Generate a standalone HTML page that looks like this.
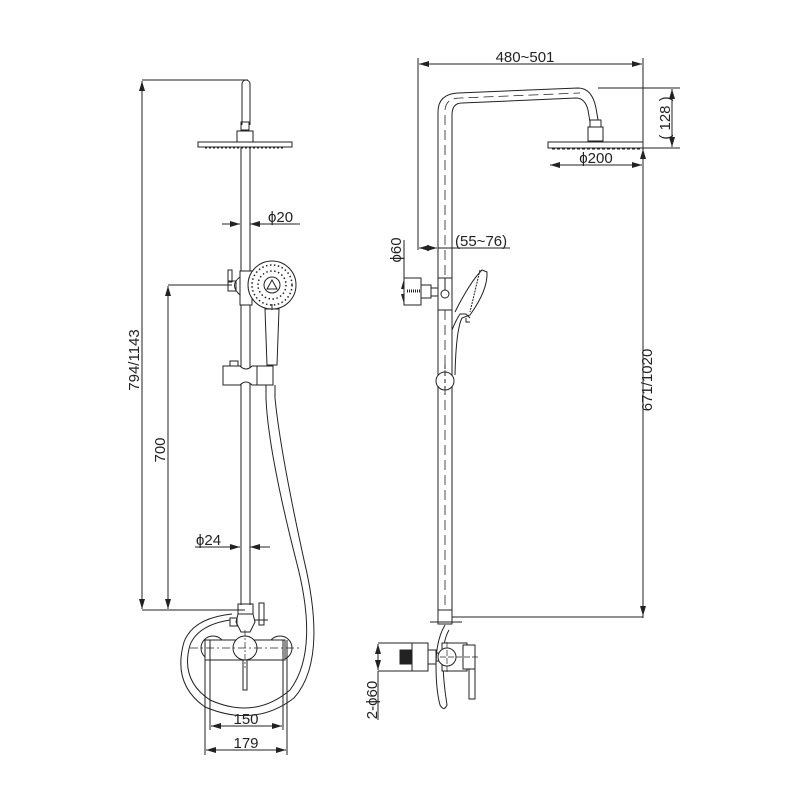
<!DOCTYPE html>
<html><head><meta charset="utf-8"><style>
html,body{margin:0;padding:0;background:#fff}
svg{display:block}
text{font-family:"Liberation Sans","DejaVu Sans",sans-serif;font-size:15px;fill:#222}
</style></head><body>
<svg width="800" height="800" viewBox="0 0 800 800" xmlns="http://www.w3.org/2000/svg">
<defs>
<marker id="a" viewBox="0 0 10 6" refX="10" refY="3" markerWidth="10" markerHeight="6" orient="auto-start-reverse" markerUnits="userSpaceOnUse"><path d="M0,0 L10,3 L0,6 z" fill="#222"/></marker>
</defs>
<g stroke="#222" stroke-width="1" fill="none">
<line x1="142" y1="80" x2="248" y2="80"/>
<line x1="142" y1="610" x2="245" y2="610"/>
<line x1="142" y1="81" x2="142" y2="609" marker-start="url(#a)" marker-end="url(#a)"/>
<line x1="168" y1="285" x2="232" y2="285"/>
<line x1="168" y1="286" x2="168" y2="609" marker-start="url(#a)" marker-end="url(#a)"/>
<line x1="222" y1="224" x2="240" y2="224" marker-end="url(#a)"/>
<line x1="250" y1="224" x2="300" y2="224" marker-start="url(#a)"/>
<line x1="195" y1="547" x2="240" y2="547" marker-end="url(#a)"/>
<line x1="250" y1="547" x2="270" y2="547" marker-start="url(#a)"/>
<path d="M242,125 L242,84 A4,4 0 0 1 250,84 L250,125"/>
<rect x="241" y="122" width="8" height="8"/>
<rect x="237" y="131" width="16" height="11"/>
<rect x="198" y="142" width="94" height="5"/>
<line x1="205" y1="148" x2="285" y2="148" stroke-dasharray="2,2"/>
<line x1="241" y1="148" x2="241" y2="605"/>
<line x1="250" y1="148" x2="250" y2="605"/>
<rect x="240" y="271" width="12" height="34" fill="#fff"/>
<path d="M240,277 Q229,285 240,295"/>
<rect x="228" y="281" width="8" height="10"/>
<rect x="228" y="270" width="4" height="12"/>
<circle cx="272" cy="285" r="24" fill="#fff"/>
<circle cx="272" cy="285" r="20" stroke-dasharray="1.5,2.5" stroke-width="1.5"/>
<circle cx="272" cy="285" r="14" stroke-dasharray="1.5,2.5" stroke-width="1.5"/>
<circle cx="272" cy="285" r="8"/>
<path d="M267,289 L272,280 L277,289 z"/>
<path d="M265,309 L279,309 L277,365 L267,365 z"/>
<line x1="272" y1="304" x2="272" y2="310"/>
<path d="M223,366 L240,366 Q246,372 252,366 L273,366 L273,385 L252,385 Q246,379 240,385 L223,385 z" fill="#fff"/>
<line x1="257" y1="366" x2="257" y2="385"/>
<rect x="230" y="361" width="8" height="5"/>
<path d="M266,385 L266,398 Q268,450 296,560 Q320,650 290,690 Q255,720 210,700 Q180,680 190,645 Q198,625 230,620"/>
<path d="M275,385 L275,398 Q280,450 304,560 Q328,660 294,698 Q255,728 205,707 Q172,684 184,642 Q193,618 232,614"/>
<rect x="238" y="604" width="15" height="10"/>
<path d="M238,614 L253,614 L255,622 L250,632 L241,632 L236,622 z"/>
<rect x="230" y="618" width="7" height="8"/>
<line x1="254" y1="620" x2="268" y2="620"/>
<rect x="259" y="603" width="5" height="22"/>
<circle cx="213" cy="648" r="12"/>
<circle cx="280" cy="648" r="12"/>
<rect x="205" y="640" width="80" height="20" fill="#fff"/>
<circle cx="245" cy="648" r="12" fill="#fff"/>
<rect x="243" y="660" width="4" height="30"/>
<line x1="190" y1="648" x2="300" y2="648" stroke-dasharray="8,3,2,3" stroke-width=".7"/>
<line x1="245" y1="630" x2="245" y2="668" stroke-dasharray="6,2,2,2" stroke-width=".7"/>
<line x1="205" y1="640" x2="205" y2="755"/>
<line x1="287" y1="640" x2="287" y2="755"/>
<line x1="210" y1="640" x2="210" y2="730"/>
<line x1="283" y1="640" x2="283" y2="730"/>
<line x1="211" y1="726" x2="282" y2="726" marker-start="url(#a)" marker-end="url(#a)"/>
<line x1="206" y1="750" x2="286" y2="750" marker-start="url(#a)" marker-end="url(#a)"/>

<line x1="418" y1="58" x2="418" y2="250"/>
<line x1="643" y1="58" x2="643" y2="618"/>
<line x1="419" y1="64" x2="642" y2="64" marker-start="url(#a)" marker-end="url(#a)"/>
<path d="M438,610 L438,112 Q438,94 458,93 L578,88 Q592,88 596,108 L598,120"/>
<path d="M452,610 L452,115 Q452,103 462,103 L576,98 Q585,98 588,110 L590,122"/>
<path d="M445,605 L445,110 Q446,98 460,98 L580,93" stroke-dasharray="10,5" stroke-width=".8"/>
<rect x="590" y="120" width="11" height="7"/>
<rect x="588" y="127" width="15" height="14"/>
<rect x="548" y="142" width="95" height="6"/>
<line x1="552" y1="149" x2="640" y2="149" stroke-dasharray="3,2"/>
<line x1="598" y1="88" x2="680" y2="88"/>
<line x1="643" y1="148" x2="680" y2="148"/>
<line x1="672" y1="89" x2="672" y2="147" marker-start="url(#a)" marker-end="url(#a)"/>
<line x1="550" y1="165" x2="642" y2="165" marker-start="url(#a)" marker-end="url(#a)"/>
<line x1="643" y1="149" x2="643" y2="616" marker-start="url(#a)" marker-end="url(#a)"/>
<line x1="419" y1="248" x2="437" y2="248" marker-start="url(#a)" marker-end="url(#a)"/>
<line x1="438" y1="248" x2="510" y2="248"/>
<line x1="404" y1="240" x2="404" y2="279"/>
<line x1="404" y1="279" x2="404" y2="304" marker-start="url(#a)" marker-end="url(#a)"/>
<rect x="404" y="278" width="17" height="27" fill="#fff"/>
<line x1="407" y1="291" x2="420" y2="291" stroke-width="3" stroke-dasharray="1,1"/>
<rect x="421" y="285" width="10" height="13"/>
<path d="M431,288 L438,288 M431,296 L438,296"/>
<rect x="438" y="278" width="14" height="32" fill="#fff"/>
<circle cx="445" cy="294" r="4"/>
<line x1="445" y1="278" x2="445" y2="290"/>
<path d="M455,312 Q470,282 482,270 L487,272 Q488,290 470,315 L462,318 Q456,330 455,375"/>
<path d="M452,330 Q456,320 460,314 L466,314 L470,318"/>
<path d="M480,270 L470,312" stroke-dasharray="2,1"/>
<path d="M466,318 L466,322 L470,322"/>
<circle cx="445" cy="381" r="9" fill="#fff"/>
<line x1="445" y1="365" x2="445" y2="395" stroke-dasharray="4,3"/>
<rect x="438" y="610" width="14" height="14" fill="#fff"/>
<line x1="452" y1="617" x2="643" y2="617"/>
<path d="M445,625 Q436,640 436,665 Q436,690 440,705 Q444,712 447,705 Q443,680 443,660 Q443,640 449,630"/>
<line x1="430" y1="622" x2="462" y2="622"/>
<rect x="412" y="643" width="16" height="28" fill="#fff"/>
<rect x="400" y="650" width="12" height="14" fill="#222"/>
<rect x="428" y="650" width="8" height="14"/>
<rect x="436" y="653" width="6" height="8"/>
<rect x="442" y="643" width="25" height="28" fill="#fff"/>
<circle cx="447" cy="657" r="9" fill="#fff"/>
<rect x="463" y="645" width="12" height="24" fill="#fff"/>
<rect x="469" y="669" width="6" height="30"/>
<line x1="440" y1="657" x2="480" y2="657" stroke-dasharray="6,2" stroke-width=".7"/>
<line x1="447" y1="642" x2="447" y2="672" stroke-dasharray="6,2" stroke-width=".7"/>
<line x1="378" y1="643" x2="412" y2="643"/>
<line x1="378" y1="671" x2="412" y2="671"/>
<line x1="378" y1="644" x2="378" y2="670" marker-start="url(#a)" marker-end="url(#a)"/>
<line x1="378" y1="671" x2="378" y2="720"/>
</g>
<text x="268" y="222">ϕ20</text>
<text x="196" y="545">ϕ24</text>
<text x="246" y="724" text-anchor="middle">150</text>
<text x="246" y="748" text-anchor="middle">179</text>
<text transform="translate(139,360) rotate(-90)" text-anchor="middle">794/1143</text>
<text transform="translate(165,450) rotate(-90)" text-anchor="middle">700</text>
<text x="525" y="62" text-anchor="middle">480~501</text>
<text x="596" y="163" text-anchor="middle">ϕ200</text>
<text x="455" y="246">(55~76)</text>
<text transform="translate(401,250) rotate(-90)" text-anchor="middle">ϕ60</text>
<text transform="translate(670,118) rotate(-90)" text-anchor="middle">( 128 )</text>
<text transform="translate(652,380) rotate(-90)" text-anchor="middle">671/1020</text>
<text transform="translate(377,700) rotate(-90)" text-anchor="middle">2-ϕ60</text>
</svg>
</body></html>
